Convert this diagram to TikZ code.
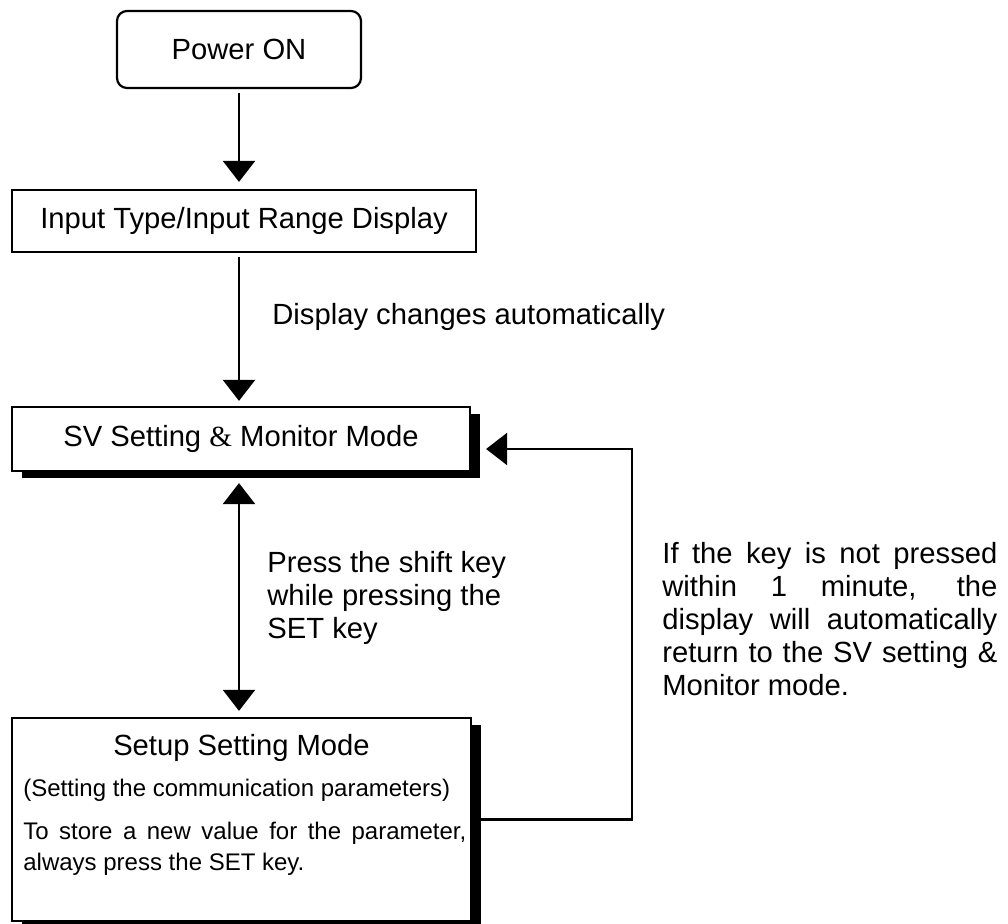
\documentclass[tikz,border=0pt]{standalone}
\usepackage{fontspec}
\setmainfont{Liberation Sans}
\newfontfamily\ampfont{Liberation Serif}
\usetikzlibrary{arrows.meta,shadows,calc}

\begin{document}
\begin{tikzpicture}[x=0.5pt, y=-0.5pt, inner sep=0pt,
    every node/.style={font=\fontsize{14.6}{16.5}\selectfont},
    >={Triangle[width=16pt,length=10.5pt]},
    plainbox/.style={draw, line width=1.1pt, fill=white},
    shadowbox/.style={plainbox, drop shadow={shadow xshift=5pt, shadow yshift=-3.5pt, fill=black, opacity=1}},
    flowline/.style={line width=1.1pt, ->},
    smallnote/.style={font=\fontsize{12}{15.5}\selectfont}]
    \useasboundingbox (0,0) rectangle (1008,924);

    \node[plainbox, rounded corners=5pt, minimum width=122pt, minimum height=38.5pt] (power) at (239,49.5) {Power ON};
    \node[plainbox, minimum width=232pt, minimum height=31pt] (input) at (244,221) {Input Type/Input Range Display};
    \node[shadowbox, minimum width=229pt, minimum height=32pt] (sv) at (241,439) {SV Setting {\ampfont\&} Monitor Mode};
    \node[shadowbox, minimum width=229.5pt, minimum height=101.5pt] (setup) at (241.5,819.5) {};

    \node (setuptitle) at (241.5,748) {Setup Setting Mode};
    \node[smallnote, anchor=west] (setupsub) at (23,790) {(Setting the communication parameters)};
    \node[smallnote, anchor=west, text width=221.5pt, align=justify] (setuphint) at (23,849)
        {To store a new value for the parameter,\linebreak always press the SET key.};

    \node[anchor=west] (autonote) at (272,317) {Display changes automatically};
    \node[anchor=west, align=left] (shiftnote) at (267,598) {Press the shift key\\while pressing the\\SET key};
    \node[anchor=west, text width=167.5pt, align=justify] (timeoutnote) at (662,619)
        {If the key is not pressed\linebreak within 1 minute, the\linebreak display will automatically\linebreak return to the SV setting \&\linebreak Monitor mode.};

    \coordinate (turn) at (632,449);

    \draw[flowline, shorten <=2pt, shorten >=3.5pt] (power.south) -- (input.north -| power.south);
    \draw[flowline, shorten <=2pt, shorten >=2.5pt] (input.south -| power.south) -- (sv.north -| power.south);
    \draw[flowline, <->, shorten <=5.5pt, shorten >=3pt] (sv.south -| power.south) -- (setup.north -| power.south);
    \draw[flowline, shorten >=7.5pt] (setup.east) -| (turn) -- (turn -| sv.east);
\end{tikzpicture}
\end{document}
